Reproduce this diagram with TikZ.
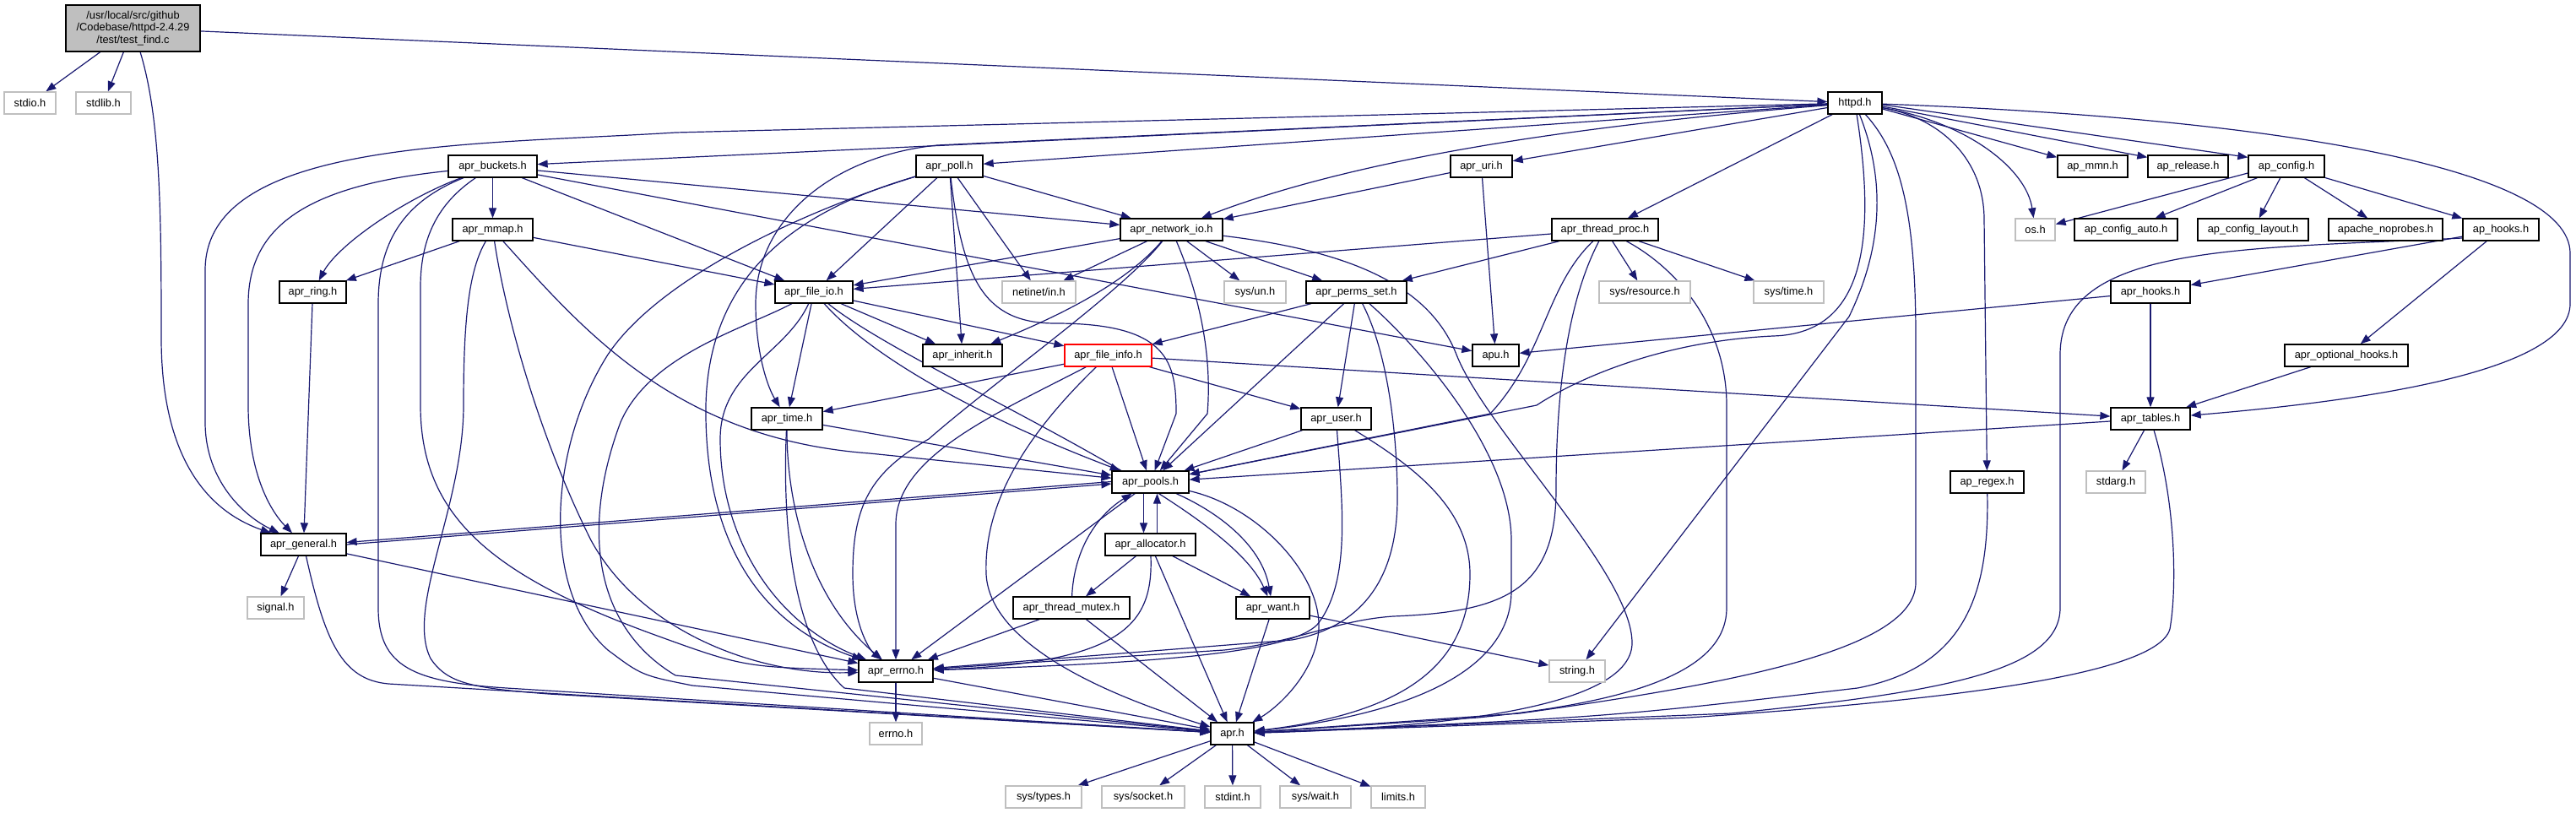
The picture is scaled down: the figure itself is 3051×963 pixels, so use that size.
\documentclass[tikz,border=0pt]{standalone}
\usepackage{fontspec}
\setmainfont{Liberation Sans}
\usetikzlibrary{arrows.meta,calc}
\definecolor{edgec}{HTML}{191970}
\definecolor{sysc}{HTML}{BFBFBF}
\pgfdeclarelayer{background}
\pgfsetlayers{background,main}
\begin{document}
\begin{tikzpicture}[x=1pt,y=-1pt,
  every node/.style={font=\fontsize{12.8}{14.7}\selectfont},
  hdr/.style={draw=black,line width=1.3pt,fill=white,minimum height=26pt,inner sep=0pt,anchor=center},
  sys/.style={hdr,draw=sysc},
  trunc/.style={hdr,draw=red},
  e/.style={draw=edgec,line width=1.2pt,-{Triangle[length=12pt,width=9pt]}},
]
\useasboundingbox (0,0) rectangle (3051,963);
% rank 0
\node[hdr,fill=sysc,minimum width=159pt,minimum height=55pt,align=center] (test) at (157.5,33.5) {/usr/local/src/github\\/Codebase/httpd-2.4.29\\/test/test\_find.c};
% rank 1
\node[sys,minimum width=61pt] (stdio) at (35.5,122) {stdio.h};
\node[sys,minimum width=65pt] (stdlib) at (122.5,122) {stdlib.h};
\node[hdr,minimum width=64pt] (httpd) at (2197,122) {httpd.h};
% rank 2
\node[hdr,minimum width=105pt] (buckets) at (583.5,197) {apr\_buckets.h};
\node[hdr,minimum width=79pt] (poll) at (1124.5,197) {apr\_poll.h};
\node[hdr,minimum width=73pt] (uri) at (1754.5,197) {apr\_uri.h};
\node[hdr,minimum width=83pt] (mmn) at (2478.5,197) {ap\_mmn.h};
\node[hdr,minimum width=95pt] (release) at (2591.5,197) {ap\_release.h};
\node[hdr,minimum width=90pt] (config) at (2708,197) {ap\_config.h};
% rank 3
\node[hdr,minimum width=95pt] (mmap) at (583.5,272) {apr\_mmap.h};
\node[hdr,minimum width=121pt] (netio) at (1387.5,272) {apr\_network\_io.h};
\node[hdr,minimum width=126pt] (tproc) at (1901,272) {apr\_thread\_proc.h};
\node[sys,minimum width=47pt] (os) at (2410.5,272) {os.h};
\node[hdr,minimum width=122pt] (cauto) at (2518,272) {ap\_config\_auto.h};
\node[hdr,minimum width=131pt] (clayout) at (2668.5,272) {ap\_config\_layout.h};
\node[hdr,minimum width=135pt] (noprobes) at (2825.5,272) {apache\_noprobes.h};
\node[hdr,minimum width=90pt] (aphooks) at (2962,272) {ap\_hooks.h};
% rank 4
\node[hdr,minimum width=79pt] (ring) at (370.5,346) {apr\_ring.h};
\node[hdr,minimum width=92pt] (fileio) at (964,346) {apr\_file\_io.h};
\node[sys,minimum width=87pt] (netinet) at (1230.5,346) {netinet/in.h};
\node[sys,minimum width=73pt] (sysun) at (1486.5,346) {sys/un.h};
\node[hdr,minimum width=119pt] (perms) at (1606.5,346) {apr\_perms\_set.h};
\node[sys,minimum width=108pt] (sysres) at (1948,346) {sys/resource.h};
\node[sys,minimum width=83pt] (systime) at (2118.5,346) {sys/time.h};
\node[hdr,minimum width=94pt] (aprhooks) at (2547,346) {apr\_hooks.h};
% rank 5
\node[hdr,minimum width=94pt] (inherit) at (1140,421) {apr\_inherit.h};
\node[trunc,minimum width=103pt] (fileinfo) at (1312.5,421) {apr\_file\_info.h};
\node[hdr,minimum width=55pt] (apu) at (1771.5,421) {apu.h};
\node[hdr,minimum width=146pt] (opthooks) at (2779,421) {apr\_optional\_hooks.h};
% rank 6
\node[hdr,minimum width=84pt] (time) at (932,496) {apr\_time.h};
\node[hdr,minimum width=83pt] (user) at (1582.5,496) {apr\_user.h};
\node[hdr,minimum width=94pt] (tables) at (2547,496) {apr\_tables.h};
% rank 7
\node[hdr,minimum width=91pt] (pools) at (1362.5,571) {apr\_pools.h};
\node[hdr,minimum width=87pt] (regex) at (2353.5,571) {ap\_regex.h};
\node[sys,minimum width=70pt] (stdarg) at (2506,571) {stdarg.h};
% rank 8
\node[hdr,minimum width=101pt] (general) at (359.5,645) {apr\_general.h};
\node[hdr,minimum width=107pt] (alloc) at (1362.5,645) {apr\_allocator.h};
% rank 9
\node[sys,minimum width=67pt] (signal) at (326.5,720) {signal.h};
\node[hdr,minimum width=138pt] (mutex) at (1269,720) {apr\_thread\_mutex.h};
\node[hdr,minimum width=87pt] (want) at (1507.5,720) {apr\_want.h};
% rank 10
\node[hdr,minimum width=88pt] (errnoh) at (1061,795) {apr\_errno.h};
\node[sys,minimum width=66pt] (string) at (1868,795) {string.h};
% rank 11
\node[sys,minimum width=62pt] (errno) at (1061,869) {errno.h};
\node[hdr,minimum width=51pt] (apr) at (1459.5,869) {apr.h};
% rank 12
\node[sys,minimum width=90pt] (types) at (1236,944) {sys/types.h};
\node[sys,minimum width=98pt] (socket) at (1354,944) {sys/socket.h};
\node[sys,minimum width=66pt] (stdint) at (1460,944) {stdint.h};
\node[sys,minimum width=84pt] (wait) at (1558,944) {sys/wait.h};
\node[sys,minimum width=64pt] (limits) at (1656,944) {limits.h};

\begin{pgfonlayer}{background}
% test_find.c
\draw[e] (test) -- (stdio);
\draw[e] (test) -- (stdlib);
\draw[e] (test) -- (httpd);
\draw[e] (test) .. controls (190,140) and (191,250) .. (191,400) .. controls (191,560) and (260,610) .. (general);
% httpd.h
\draw[e] ([yshift=-7pt]httpd.east) -- ([yshift=-3pt]mmn.north west);
\draw[e] ([yshift=-4pt]httpd.east) -- ([yshift=-3pt]release.north west);
\draw[e] ([yshift=-2pt]httpd.east) -- ([yshift=-3pt]config.north west);
\draw[e] (httpd) .. controls (2330,145) and (2400,200) .. (os);
\draw[e] (httpd) .. controls (2700,140) and (3044,200) .. (3044,300) -- (3044,360) .. controls (3044,440) and (2800,475) .. (tables);
\draw[e] (httpd) .. controls (2300,140) and (2350,190) .. (2350,260) -- (regex);
\draw[e] (httpd) .. controls (2250,180) and (2269,250) .. (2269,400) -- (2269,690) .. controls (2269,770) and (2050,810) .. (1800,845) -- (apr);
\draw[e] (httpd) .. controls (2228,200) and (2236,280) .. (2190,375) -- (string);
\draw[e] (httpd) .. controls (2220,270) and (2215,395) .. (2100,398) .. controls (1950,405) and (1850,460) .. (1820,480) -- (pools);
\draw[e] (httpd) -- (uri);
\draw[e] (httpd) -- (tproc);
\draw[e] (httpd) -- (poll);
\draw[e] (httpd) .. controls (1850,150) and (1600,190) .. (netio);
\draw[e] (httpd) -- (buckets);
\draw[e] (httpd) -- (1110,172) .. controls (985,185) and (895,260) .. (895,360) .. controls (895,420) and (910,460) .. (time);
\draw[e] (httpd) -- (800,157) .. controls (560,172) and (243,165) .. (243,320) -- (243,500) .. controls (243,570) and (290,612) .. (general);
% apr_buckets.h
\draw[e] (buckets) -- (netio);
\draw[e] (buckets) -- (mmap);
\draw[e] (buckets) .. controls (480,235) and (400,290) .. (ring);
\draw[e] (buckets) .. controls (360,220) and (294,270) .. (294,360) -- (294,480) .. controls (294,560) and (320,605) .. (general);
\draw[e] (buckets) -- (fileio);
\draw[e] (buckets) -- (apu);
\draw[e] (buckets) .. controls (520,240) and (498,280) .. (498,340) -- (498,480) .. controls (498,610) and (580,680) .. (770,750) .. controls (880,790) .. (errnoh);
\draw[e] (buckets) .. controls (475,240) and (448,290) .. (448,360) -- (448,720) .. controls (448,790) and (490,808) .. (600,815) -- (apr);
% apr_poll.h
\draw[e] (poll) -- (netio);
\draw[e] (poll) -- (fileio);
\draw[e] (poll) -- (inherit);
\draw[e] (poll) -- (netinet);
\draw[e] (poll) .. controls (1140,330) and (1165,383) .. (1250,383) .. controls (1385,383) and (1393,430) .. (1393,490) -- (pools);
\draw[e] (poll) .. controls (980,240) and (840,300) .. (836,480) .. controls (834,640) and (900,740) .. (errnoh);
\draw[e] (poll) .. controls (950,250) and (780,330) .. (720,420) .. controls (650,530) and (640,700) .. (720,770) .. controls (760,800) .. (820,812) -- (apr);
% apr_network_io.h
\draw[e] (netio) -- (fileio);
\draw[e] (netio) -- (netinet);
\draw[e] (netio) -- (sysun);
\draw[e] (netio) .. controls (1330,340) and (1240,380) .. (inherit);
\draw[e] (netio) -- (perms);
\draw[e] (netio) .. controls (1425,360) and (1435,430) .. (1430,490) -- (pools);
\draw[e] (netio) .. controls (1330,345) and (1180,450) .. (1100,520) .. controls (1030,560) and (1010,600) .. (1010,680) .. controls (1010,740) and (1030,770) .. (errnoh);
\draw[e] (netio) .. controls (1580,295) and (1690,330) .. (1725,420) .. controls (1760,510) and (1935,680) .. (1933,763) .. controls (1930,840) and (1700,862) .. (apr);
% apr_uri.h
\draw[e] (uri) -- (netio);
\draw[e] (uri) -- (apu);
% apr_thread_proc.h
\draw[e] (tproc) -- (fileio);
\draw[e] (tproc) -- (perms);
\draw[e] (tproc) -- (sysres);
\draw[e] (tproc) -- (systime);
\draw[e] (tproc) .. controls (1830,340) and (1830,420) .. (1765,490) -- (pools);
\draw[e] (tproc) .. controls (1860,350) and (1843,450) .. (1843,580) .. controls (1843,700) and (1780,725) .. (1650,730) .. controls (1580,735) and (1540,760) .. (1450,770) -- (errnoh);
\draw[e] (tproc) .. controls (1990,320) and (2045,390) .. (2045,480) -- (2045,720) .. controls (2045,790) and (1950,830) .. (1750,850) -- (apr);
% apr_perms_set.h
\draw[e] (perms) -- (fileinfo);
\draw[e] (perms) -- (user);
\draw[e] (perms) -- (pools);
\draw[e] (perms) .. controls (1645,420) and (1655,520) .. (1655,590) .. controls (1655,700) and (1600,745) .. (1530,758) -- (errnoh);
\draw[e] (perms) .. controls (1690,420) and (1790,540) .. (1790,640) -- (1790,700) .. controls (1790,790) and (1680,845) .. (apr);
% apr_mmap.h
\draw[e] (mmap) -- (ring);
\draw[e] (mmap) -- (fileio);
\draw[e] (mmap) .. controls (690,390) and (800,520) .. (1030,537) -- (pools);
\draw[e] (mmap) .. controls (600,380) and (640,520) .. (700,640) .. controls (760,750) and (900,800) .. (errnoh);
\draw[e] (mmap) .. controls (555,320) and (549,380) .. (549,480) .. controls (549,600) and (480,720) .. (510,780) .. controls (530,810) and (560,815) .. (650,822) -- (apr);
% apr_ring.h
\draw[e] (ring) -- (general);
% apr_file_io.h
\draw[e] (fileio) -- (time);
\draw[e] (fileio) -- (inherit);
\draw[e] (fileio) -- (fileinfo);
\draw[e] (fileio) .. controls (1030,420) and (1150,490) .. (pools);
\draw[e] (fileio) .. controls (1080,440) and (1450,590) .. (want);
\draw[e] (fileio) .. controls (930,420) and (853,440) .. (853,520) .. controls (853,640) and (920,740) .. (errnoh);
\draw[e] (fileio) .. controls (880,390) and (770,420) .. (735,500) .. controls (690,620) and (700,740) .. (800,800) -- (apr);
% apr_file_info.h
\draw[e] (fileinfo) -- (time);
\draw[e] (fileinfo) -- (user);
\draw[e] (fileinfo) -- (pools);
\draw[e] (fileinfo) -- (tables);
\draw[e] (fileinfo) .. controls (1180,490) and (1062,540) .. (1061,620) -- (errnoh);
\draw[e] (fileinfo) .. controls (1210,520) and (1165,600) .. (1168,680) .. controls (1172,760) and (1300,820) .. (apr);
% apr_time.h
\draw[e] (time) -- (pools);
\draw[e] (time) .. controls (932,600) and (960,710) .. (errnoh);
\draw[e] (time) .. controls (925,660) and (950,770) .. (1000,815) -- (apr);
% apr_user.h
\draw[e] (user) -- (pools);
\draw[e] (user) .. controls (1590,600) and (1600,690) .. (1560,740) .. controls (1530,770) and (1400,785) .. (errnoh);
\draw[e] (user) .. controls (1670,550) and (1741,600) .. (1741,680) .. controls (1741,790) and (1660,845) .. (apr);
% apr_tables.h
\draw[e] (tables) -- (pools);
\draw[e] (tables) -- (stdarg);
\draw[e] (tables) .. controls (2578,600) and (2578,700) .. (2570,745) .. controls (2555,800) and (2300,830) .. (2000,850) -- (apr);
% ap_regex.h
\draw[e] (regex) .. controls (2356,700) and (2330,790) .. (2200,815) .. controls (1900,850) .. (apr);
% ap_hooks.h
\draw[e] (aphooks) -- (aprhooks);
\draw[e] (aphooks) -- (opthooks);
\draw[e] ([yshift=-10pt]aphooks.west) .. controls (2650,295) and (2440,290) .. (2440,420) -- (2440,720) .. controls (2440,795) and (2300,820) .. (2050,845) -- (apr);
% apr_hooks.h
\draw[e] (aprhooks) -- (apu);
\draw[e] (aprhooks) -- (tables);
% apr_optional_hooks.h
\draw[e] (opthooks) -- (tables);
% ap_config.h
\draw[e] ([yshift=-8pt]config.west) -- (os);
\draw[e] (config) -- (cauto);
\draw[e] (config) -- (clayout);
\draw[e] (config) -- (noprobes);
\draw[e] (config) -- (aphooks);
% apr_pools.h
\draw[e] ([yshift=0.5pt]pools.west) -- ([yshift=2.5pt]general.east);
\draw[e] ([yshift=0pt]general.east) -- ([yshift=-2pt]pools.west);
\draw[e] ([xshift=-8pt]pools.south) -- ([xshift=-8pt]alloc.north);
\draw[e] ([xshift=8pt]alloc.north) -- ([xshift=8pt]pools.south);
\draw[e] (pools) .. controls (1450,610) and (1495,650) .. (want);
\draw[e] (pools) -- (errnoh);
\draw[e] (pools) .. controls (1490,600) and (1565,680) .. (1562,745) .. controls (1558,800) and (1510,840) .. (apr);
% apr_allocator.h
\draw[e] (alloc) -- (mutex);
\draw[e] (alloc) -- (want);
\draw[e] (alloc) .. controls (1366,740) and (1330,785) .. (errnoh);
\draw[e] (alloc) -- (apr);
% apr_thread_mutex.h
\draw[e] (mutex) .. controls (1272,650) and (1300,610) .. (pools);
\draw[e] (mutex) -- (errnoh);
\draw[e] (mutex) -- (apr);
% apr_want.h
\draw[e] (want) -- (string);
\draw[e] (want) -- (apr);
% apr_general.h
\draw[e] (general) -- (signal);
\draw[e] (general) .. controls (385,760) and (405,805) .. (460,810) -- (apr);
\draw[e] (general) -- (errnoh);
% apr_errno.h
\draw[e] (errnoh) -- (errno);
\draw[e] (errnoh) -- (apr);
% apr.h
\draw[e] (apr) -- (types);
\draw[e] (apr) -- (socket);
\draw[e] (apr) -- (stdint);
\draw[e] (apr) -- (wait);
\draw[e] (apr) -- (limits);
\end{pgfonlayer}
\end{tikzpicture}
\end{document}
